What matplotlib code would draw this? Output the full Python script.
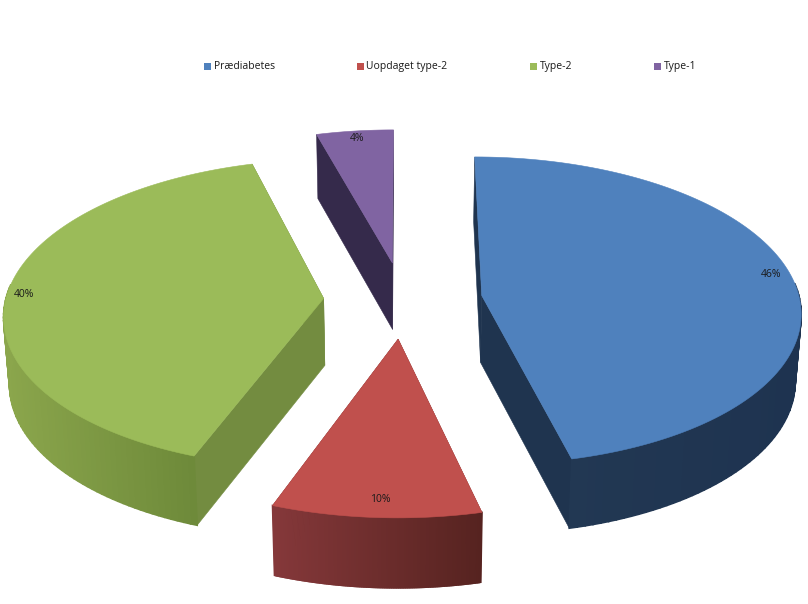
import numpy as np
import matplotlib
matplotlib.use("Agg")
import matplotlib.pyplot as plt
from matplotlib.patches import Rectangle

# Chart data
categories = ["Prædiabetes", "Uopdaget type-2", "Type-2", "Type-1"]
values = [46.25, 9.4, 40.0, 4.35]
labels = ["46%", "10%", "40%", "4%"]

# Styles
top_colors = ["#4f81bd", "#c0504d", "#9bbb59", "#8064a2"]
cut_colors = ["#1f344f", "#7a2f2d", "#738c40", "#352a4b"]
rim_left = ["#223853", "#85383a", "#8ba64c", "#3d3058"]
rim_right = ["#1e3350", "#562320", "#6e8a3a", "#352a4b"]
legend_x = [204, 356.5, 530, 653.5]
label_radius = [0.94, 0.9, 0.95, 0.95]
label_nudge_x = [-3, 2, 0, 1]
label_nudge_y = [-4, 2, 2, 1]

# Projection of the pie plane on the page, in pixels
cx, cy = 403, 300
scale_x, scale_y = 318, 153
persp = 0.098
depth = 67
shrink = 0.985
explode = 0.25
start_angle = 0


def project(u, v, lower=False):
    w = 1 - persp * np.asarray(v)
    x = scale_x * np.asarray(u) / w
    y = scale_y * np.asarray(v) / w
    if lower:
        return cx + shrink * x, cy + y + depth * (1 + 0.035 * np.asarray(v))
    return cx + x, cy + y


def mix(c1, c2, f):
    a = np.array(matplotlib.colors.to_rgb(c1))
    b = np.array(matplotlib.colors.to_rgb(c2))
    return tuple(a + (b - a) * f)


fig = plt.figure(figsize=(8.08, 6.04), dpi=100)
ax = fig.add_axes([0, 0, 1, 1])
ax.set_xlim(0, 808)
ax.set_ylim(604, 0)
ax.axis("off")

# Angles run clockwise from the back of the pie
sweeps = np.array(values) / sum(values) * 360
starts = start_angle + np.concatenate([[0], np.cumsum(sweeps)[:-1]])
mids = starts + sweeps / 2

# Painter's order: back to front
for i in [3, 2, 0, 1]:
    t = np.radians(np.linspace(starts[i], starts[i] + sweeps[i], 120))
    m = np.radians(mids[i])
    u0, v0 = explode * np.sin(m), -explode * np.cos(m)
    u = u0 + np.sin(t)
    v = v0 - np.cos(t)

    x_top, y_top = project(u, v)
    x_low, y_low = project(u, v, lower=True)
    ax_top, ay_top = project(u0, v0)
    ax_low, ay_low = project(u0, v0, lower=True)

    # Flat cut faces
    for k in [0, -1]:
        ax.fill([ax_top, x_top[k], x_low[k], ax_low],
                [ay_top, y_top[k], y_low[k], ay_low],
                color=cut_colors[i], lw=0.4, zorder=i * 3 + 1)

    # Rim, only the part that faces the viewer
    front = np.cos(t) < 0.1
    if front.any():
        x_min, x_max = x_top[front].min(), x_top[front].max()
        for j in np.where(front[:-1] & front[1:])[0]:
            f = np.clip((x_top[j] - x_min) / (x_max - x_min), 0, 1)
            ax.fill([x_top[j], x_top[j + 1], x_low[j + 1], x_low[j]],
                    [y_top[j], y_top[j + 1], y_low[j + 1], y_low[j]],
                    color=mix(rim_left[i], rim_right[i], f), lw=1.2, zorder=i * 3 + 2)

    # Top face
    ax.fill(np.r_[ax_top, x_top], np.r_[ay_top, y_top],
            color=top_colors[i], lw=0.4, zorder=i * 3 + 3)

    # Value label
    r = label_radius[i]
    lx, ly = project(u0 + r * np.sin(m), v0 - r * np.cos(m))
    ax.text(lx + label_nudge_x[i], ly + label_nudge_y[i], labels[i],
            ha="center", va="center", fontsize=7.5,
            family="Open Sans", color="#1a1a1a", zorder=30)

# Legend
for x, name, color in zip(legend_x, categories, top_colors):
    ax.add_patch(Rectangle((x, 63), 7, 6.5, color=color, lw=0, zorder=30))
    ax.text(x + 10, 66.5, name, ha="left", va="center", fontsize=7.5,
            family="Open Sans", color="#1a1a1a", zorder=30)

fig.savefig("out.png", dpi=100, facecolor="white")
